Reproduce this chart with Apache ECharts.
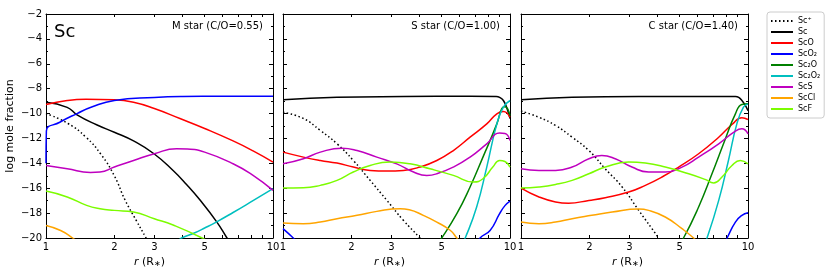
<!DOCTYPE html>
<html><head><meta charset="utf-8">
<script src="https://cdn.jsdelivr.net/npm/echarts@6/dist/echarts.min.js"></script>
<style>html,body{margin:0;padding:0;background:#fff}#c{width:830px;height:270px}</style>
</head><body><div id="c"></div>
<script>
// ---- data (r in stellar radii, log mole fraction) ----
const SPECIES = ['Sc⁺','Sc','ScO','ScO₂','Sc₂O','Sc₂O₂','ScS','ScCl','ScF'];
const PANEL_LABELS = ['M star (C/O=0.55)','S star (C/O=1.00)','C star (C/O=1.40)'];
const ELEMENT_LABEL = 'Sc';
const X_TICK_LABELS = [1,2,3,5,10];
const X_TICKS = [1,2,3,4,5,6,7,8,9,10];
const Y_MIN = -20, Y_MAX = -2, Y_STEP = 2;

// M star
const M_SCP = [[1,-10.0],[1.25,-10.8],[1.5,-11.9],[1.75,-13.3],[2,-15.0],[2.23,-16.95],[2.5,-18.6],[2.76,-20],[3,-21.2]];
const M_SC = [[1,-9.09],[1.24,-9.5],[1.37,-10.1],[1.67,-10.9],[2,-11.5],[2.43,-12.2],[3,-13.25],[3.64,-14.6],[4.16,-15.7],[4.77,-16.95],[5.65,-18.7],[6.27,-20],[6.8,-21]];
const M_SCO = [[1,-9.27],[1.24,-8.95],[1.5,-8.85],[2,-8.9],[2.43,-9.1],[3,-9.6],[3.89,-10.4],[5,-11.2],[6.67,-12.2],[8.17,-13.0],[10,-13.9]];
const M_SCO2 = [[1,-14.0],[1.004,-11.4],[1.15,-10.7],[1.37,-10.0],[1.6,-9.45],[2,-8.95],[3,-8.7],[4,-8.62],[6,-8.6],[10,-8.6]];
const M_SC2O = [];
const M_SC2O2 = [[3.8,-20.3],[3.96,-20],[4.5,-19.6],[5,-19.2],[5.65,-18.7],[6.67,-17.95],[8.2,-16.98],[10,-16.04]];
const M_SCS = [[1,-14.17],[1.24,-14.44],[1.57,-14.73],[1.73,-14.7],[2,-14.3],[2.43,-13.77],[3,-13.23],[3.76,-12.83],[4.2,-12.85],[5,-13.1],[6.67,-14.03],[8.17,-14.97],[10,-16.17]];
const M_SCCL = [[1,-19.0],[1.16,-19.4],[1.31,-20],[1.5,-20.8]];
const M_SCF = [[1,-16.23],[1.24,-16.7],[1.51,-17.38],[1.73,-17.65],[2,-17.78],[2.43,-17.91],[3,-18.45],[3.63,-18.96],[4.87,-20],[5.5,-20.6]];

// S star
const S_SCP = [[1,-9.9],[1.23,-10.4],[1.46,-11.36],[1.73,-12.43],[2.04,-13.77],[2.42,-15.37],[2.87,-16.98],[3.39,-18.58],[4.01,-20],[4.4,-20.9]];
const S_SC = [[1,-8.9],[1.73,-8.69],[3.39,-8.63],[6.67,-8.61],[8.7,-8.63],[9.0,-8.7],[9.35,-8.95],[9.7,-9.6],[10,-10.4]];
const S_SCO = [[1,-13.1],[1.23,-13.5],[1.46,-13.77],[1.73,-13.98],[2.04,-14.3],[2.42,-14.57],[2.87,-14.62],[3.39,-14.57],[4.01,-14.3],[4.76,-13.77],[5.63,-12.97],[6.67,-11.9],[7.9,-10.83],[8.75,-10.02],[9.35,-9.84],[10,-10.3]];
const S_SCO2 = [[1,-19.25],[1.11,-20],[1.2,-20.6],null,[7.2,-20.6],[7.38,-20],[8.17,-19.4],[9.0,-18.05],[9.5,-17.4],[10,-17.03]];
const S_SC2O = [[4.7,-20.6],[5.0,-20],[5.83,-18.05],[6.67,-15.9],[7.6,-13.5],[8.75,-10.83],[9.2,-9.6],[9.5,-9.45],[10,-10.16]];
const S_SC2O2 = [[6.1,-20.6],[6.35,-20],[7.13,-17.51],[7.9,-14.3],[8.75,-10.83],[9.35,-9.49],[10,-8.95]];
const S_SCS = [[1,-14.04],[1.23,-13.63],[1.46,-13.1],[1.82,-12.78],[2.12,-12.97],[2.59,-13.5],[3.17,-14.04],[3.76,-14.7],[4.3,-14.97],[4.76,-14.84],[5.63,-14.3],[6.67,-13.5],[7.9,-12.43],[9.0,-11.57],[9.5,-11.6],[10,-12.16]];
const S_SCCL = [[1,-18.8],[1.23,-18.85],[1.46,-18.72],[1.73,-18.45],[2.12,-18.18],[2.59,-17.86],[3.28,-17.65],[3.6,-17.73],[4.15,-18.18],[4.76,-18.72],[5.45,-19.38],[5.83,-20],[6.2,-20.6]];
const S_SCF = [[1,-15.99],[1.23,-15.97],[1.46,-15.77],[1.73,-15.37],[2.04,-14.7],[2.42,-14.17],[2.96,-13.9],[3.63,-14.04],[4.44,-14.44],[5.63,-14.97],[6.9,-15.5],[7.6,-15.24],[8.4,-14.3],[9.0,-13.77],[9.5,-13.85],[10,-14.3]];

// C star
const C_SCP = [[1,-9.8],[1.2,-10.3],[1.42,-10.96],[1.68,-11.9],[1.99,-12.97],[2.35,-14.44],[2.79,-15.9],[3.3,-17.78],[4.04,-20],[4.4,-21]];
const C_SC = [[1,-8.9],[1.68,-8.69],[3.3,-8.63],[8.8,-8.63],[9.1,-8.7],[9.4,-8.95],[9.7,-9.3],[10,-9.76]];
const C_SCO = [[1,-15.99],[1.2,-16.7],[1.42,-17.1],[1.62,-17.2],[1.99,-16.98],[2.35,-16.76],[2.98,-16.31],[3.53,-15.77],[4.18,-15.1],[4.95,-14.3],[6.06,-13.23],[7.43,-11.9],[8.5,-10.88],[9.4,-10.34],[10,-10.48]];
const C_SCO2 = [[7.8,-20.6],[8.09,-20],[8.8,-18.72],[9.4,-18.18],[10,-17.97]];
const C_SC2O = [[4.9,-20.6],[5.2,-20],[6.06,-17.51],[6.94,-14.84],[7.9,-12.16],[8.8,-10.02],[9.4,-9.27],[10,-9.22]];
const C_SC2O2 = [[6.3,-20.8],[6.6,-20],[7.43,-16.98],[8.2,-13.77],[8.93,-10.83],[9.55,-9.49],[10,-9.22]];
const C_SCS = [[1,-14.44],[1.2,-14.57],[1.42,-14.57],[1.68,-14.3],[1.99,-13.63],[2.27,-13.37],[2.6,-13.63],[3.08,-14.3],[3.65,-14.7],[4.32,-14.7],[5.12,-14.3],[6.06,-13.5],[7.43,-12.43],[8.8,-11.41],[9.4,-11.23],[10,-11.63]];
const C_SCCL = [[1,-18.72],[1.2,-18.85],[1.42,-18.72],[1.68,-18.45],[2.05,-18.18],[2.52,-17.91],[3.3,-17.67],[3.65,-17.78],[4.32,-18.31],[5.12,-19.25],[5.76,-20],[6.2,-20.6]];
const C_SCF = [[1,-15.99],[1.2,-15.9],[1.42,-15.7],[1.68,-15.37],[1.99,-14.84],[2.35,-14.3],[2.98,-13.9],[3.53,-13.98],[4.32,-14.3],[5.48,-14.84],[6.47,-15.29],[7.06,-15.58],[7.68,-15.1],[8.5,-14.17],[9.25,-13.77],[10,-14.04]];

const PANELS = [
  [M_SCP,M_SC,M_SCO,M_SCO2,M_SC2O,M_SC2O2,M_SCS,M_SCCL,M_SCF],
  [S_SCP,S_SC,S_SCO,S_SCO2,S_SC2O,S_SC2O2,S_SCS,S_SCCL,S_SCF],
  [C_SCP,C_SC,C_SCO,C_SCO2,C_SC2O,C_SC2O2,C_SCS,C_SCCL,C_SCF]
];

// ---- styles ----
const COLORS = ['#000000','#000000','#ff0000','#0000ff','#008000','#00bfbf','#bf00bf','#ffa500','#7cfc00'];
const DASH = [[1.5,2.5],'solid','solid','solid','solid','solid','solid','solid','solid'];
const GRID_LEFT = [46,283,521], GRID_TOP = 14, GRID_W = 227, GRID_H = 224;
const FONT = 'DejaVu Sans';

const lg = v => Math.log10(v);
const minus = v => (v < 0 ? '\u2212' + Math.abs(v) : String(v));

const grids = [], xAxes = [], yAxes = [], series = [], graphics = [];
for (let g = 0; g < 3; g++) {
  grids.push({left: GRID_LEFT[g], top: GRID_TOP, width: GRID_W, height: GRID_H, outerBoundsMode: 'none'});
  const xBase = {
    gridIndex: g, type: 'value', min: 0, max: 1,
    axisLine: {show: true, onZero: false, lineStyle: {color: '#000', width: 1}},
    axisTick: {show: true, inside: true, length: 3, customValues: X_TICKS.map(lg), lineStyle: {color: '#000', width: 1}},
    splitLine: {show: false}
  };
  xAxes.push(Object.assign({}, xBase, {
    position: 'bottom',
    axisLabel: {show: true, customValues: X_TICK_LABELS.map(lg), formatter: v => String(Math.round(Math.pow(10, v))),
      color: '#000', fontSize: 10, fontFamily: FONT, margin: 4},
    name: '{i|r} (R{s|∗})', nameLocation: 'middle', nameGap: 14,
    nameTextStyle: {color: '#000', fontSize: 11, fontFamily: FONT, padding: [0, g === 0 ? 20 : 14, 0, 0],
      rich: {i: {fontStyle: 'italic', fontSize: 11, fontFamily: FONT, color: '#000'},
             s: {fontSize: 8, fontFamily: FONT, color: '#000', padding: [4, 0, 0, 0]}}}
  }));
  xAxes.push(Object.assign({}, xBase, {position: 'top', axisLabel: {show: false}}));
  const yBase = {
    gridIndex: g, type: 'value', min: Y_MIN, max: Y_MAX, interval: Y_STEP,
    axisLine: {show: true, onZero: false, lineStyle: {color: '#000', width: 1}},
    axisTick: {show: true, inside: true, length: 4, lineStyle: {color: '#000', width: 1}},
    minorTick: {show: true, splitNumber: 2, length: 2, lineStyle: {color: '#000', width: 1}},
    splitLine: {show: false}, minorSplitLine: {show: false}
  };
  const yLeft = Object.assign({}, yBase, {
    position: 'left',
    axisLabel: {show: g === 0, formatter: minus, color: '#000', fontSize: 10, fontFamily: FONT, margin: 4}
  });
  if (g === 0) {
    yLeft.name = 'log mole fraction';
    yLeft.nameLocation = 'middle';
    yLeft.nameGap = 30;
    yLeft.nameTextStyle = {color: '#000', fontSize: 11, fontFamily: FONT};
  }
  yAxes.push(yLeft);
  yAxes.push(Object.assign({}, yBase, {position: 'right', axisLabel: {show: false}}));

  PANELS[g].forEach((arr, k) => {
    series.push({
      type: 'line', name: SPECIES[k], xAxisIndex: 2 * g, yAxisIndex: 2 * g,
      data: arr.map(p => p ? [lg(p[0]), p[1]] : ['-', '-']),
      symbol: 'none', showSymbol: false, smooth: 0.5, clip: true,
      connectNulls: false,
      lineStyle: {color: COLORS[k], width: 1.5, type: DASH[k]},
      itemStyle: {color: COLORS[k]},
      emphasis: {disabled: true}, silent: true
    });
  });

  graphics.push({
    type: 'text', right: 830 - (GRID_LEFT[g] + GRID_W - 10), top: 21,
    style: {text: PANEL_LABELS[g], fill: '#000', font: '10px "DejaVu Sans"', textAlign: 'right'}
  });
}
graphics.push({type: 'text', left: 54, top: 23, style: {text: ELEMENT_LABEL, fill: '#000', font: '18px "DejaVu Sans"'}});

const option = {
  animation: false,
  backgroundColor: '#fff',
  grid: grids, xAxis: xAxes, yAxis: yAxes, series: series,
  graphic: graphics,
  legend: {
    data: SPECIES, orient: 'vertical', left: 767, top: 12,
    itemWidth: 22, itemHeight: 8, itemGap: 3, padding: [5, 4, 5, 3],
    selectedMode: false,
    itemStyle: {opacity: 0, borderWidth: 0},
    borderColor: '#cccccc', borderWidth: 1, borderRadius: 3,
    textStyle: {fontSize: 8, fontFamily: FONT, color: '#000', padding: [0, 0, 0, 0]}
  }
};
const chart = echarts.init(document.getElementById('c'), null, {renderer: 'canvas'});
chart.setOption(option);
</script></body></html>
